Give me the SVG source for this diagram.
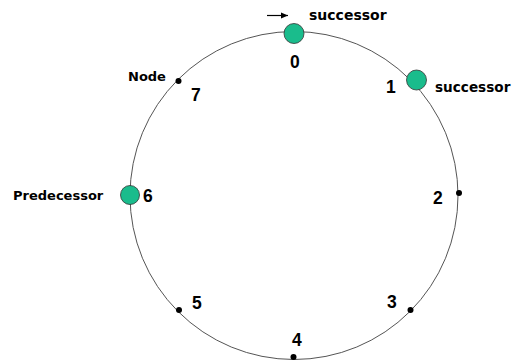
<svg xmlns="http://www.w3.org/2000/svg" width="523" height="364" viewBox="0 0 523 364">
<style>
.ring{fill:none;stroke:#555;stroke-width:1}
.big{fill:#1abc8c;stroke:#333;stroke-width:0.8}
.dot{fill:#000}
.num{font-family:"Liberation Sans",Arial,sans-serif;font-weight:bold;font-size:17.5px;fill:#000}
.lbl{font-family:"DejaVu Sans",Verdana,sans-serif;font-weight:bold;font-size:13px;fill:#000}
</style>
<defs>
<marker id="ah" markerWidth="8" markerHeight="8" refX="7" refY="4" orient="auto" markerUnits="userSpaceOnUse">
<path d="M0,1 L7,4 L0,7 Z" fill="#000"/>
</marker>
</defs>
<g id="connectors">
<circle class="ring" cx="294" cy="195.5" r="164"/>
<line x1="267" y1="15.5" x2="288" y2="15.5" stroke="#000" stroke-width="1.2" marker-end="url(#ah)"/>
</g>
<g id="node0"><circle class="big" cx="294" cy="33.5" r="10"/><text class="num" x="290" y="68">0</text><text class="lbl" x="309" y="20" style="font-size:14px">successor</text></g>
<g id="node1"><circle class="big" cx="416.5" cy="80" r="10"/><text class="num" x="386" y="93">1</text><text class="lbl" x="435" y="92" style="font-size:13.6px">successor</text></g>
<g id="node2"><circle class="dot" cx="459" cy="193" r="3"/><text class="num" x="433" y="204">2</text></g>
<g id="node3"><circle class="dot" cx="410.5" cy="310" r="3"/><text class="num" x="387" y="308">3</text></g>
<g id="node4"><circle class="dot" cx="293.5" cy="357" r="3"/><text class="num" x="292" y="346">4</text></g>
<g id="node5"><circle class="dot" cx="179" cy="310" r="3"/><text class="num" x="192" y="309">5</text></g>
<g id="node6"><circle class="big" cx="130" cy="195" r="9.5"/><text class="num" x="143" y="202">6</text><text class="lbl" x="13" y="200">Predecessor</text></g>
<g id="node7"><circle class="dot" cx="178.5" cy="81" r="3"/><text class="num" x="191" y="101">7</text><text class="lbl" x="128" y="81">Node</text></g>
</svg>
